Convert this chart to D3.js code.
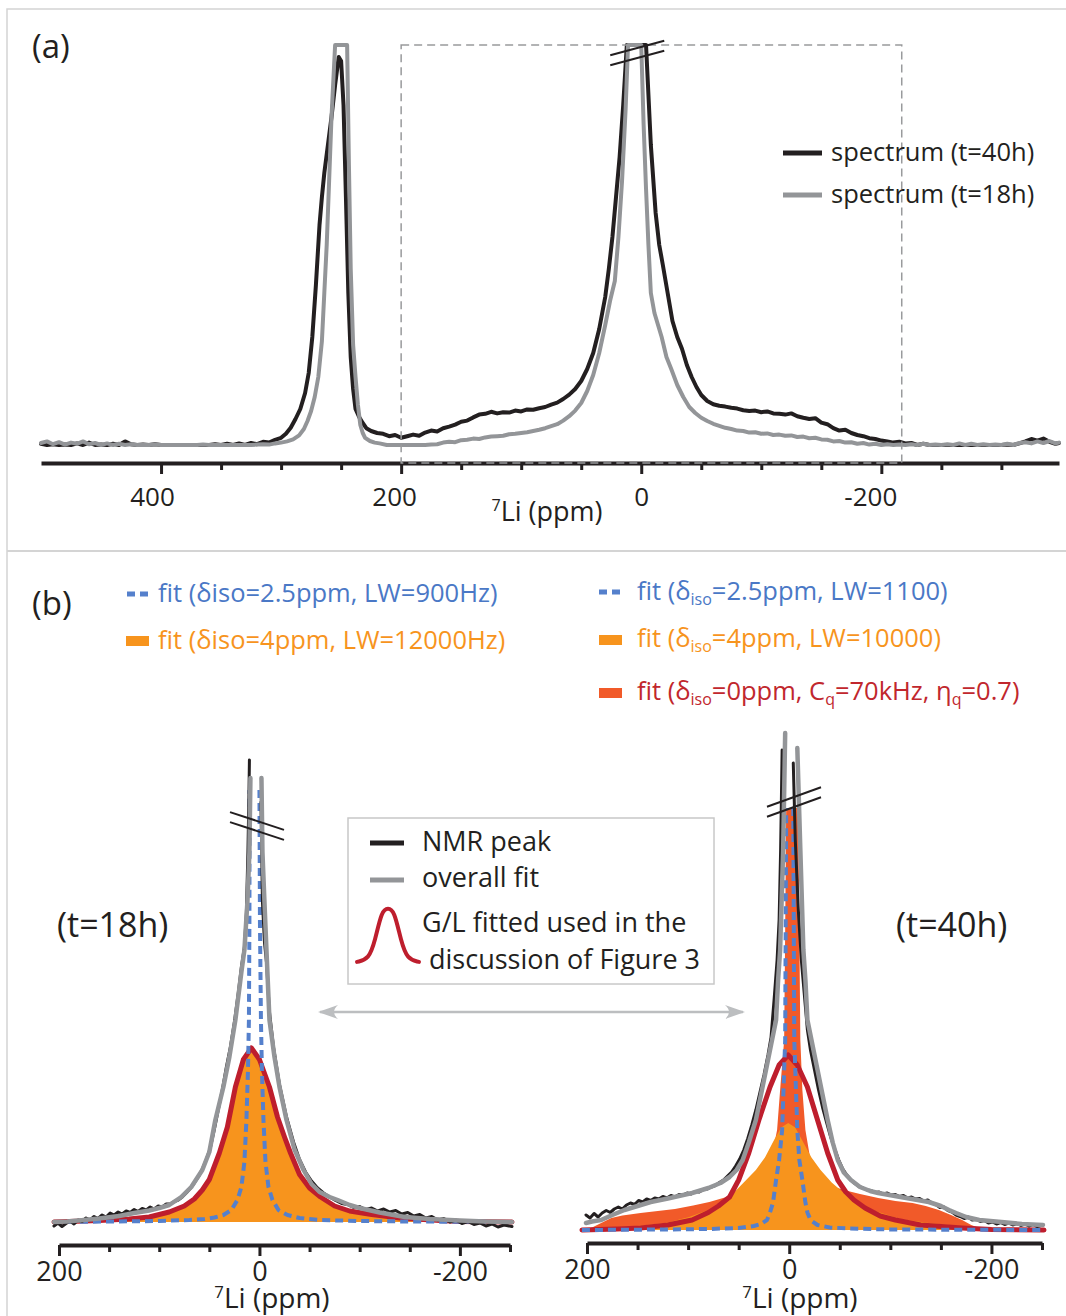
<!DOCTYPE html>
<html lang="en">
<head>
  <meta charset="UTF-8">
  <title>7Li NMR spectra and fits</title>
  <style>
    body { margin: 0; background: #fff; }
    svg { display: block; font-family: "Open Sans", sans-serif; }
  </style>
</head>
<body>
<svg id="chart" width="1066" height="1316"></svg>
<script src="https://cdnjs.cloudflare.com/ajax/libs/d3/7.8.5/d3.min.js"></script>
<script>
  // ---- panel (a): [ppm, intensity] ----
  var specA40 = [[500,0.3],[495,-0.4],[490,0.2],[485,-0.6],[480,0.1],[475,-0.3],[470,0.4],[465,-0.5],[460,0.6],[455,-0.2],[450,0.1],[445,-0.7],[440,0.3],[435,-0.1],[430,0.9],[425,0.2],[420,-0.3],[415,0.1],[410,-0.4],[405,0.2],[400,-0.6],[395,-0.2],[390,-0.9],[385,-0.4],[380,-0.7],[375,-0.2],[370,-0.8],[365,-0.1],[360,-0.5],[355,0.2],[350,-0.4],[345,0.3],[340,-0.2],[335,0.4],[330,-0.1],[325,0.5],[320,0.2],[315,0.8],[310,0.6],[305,1.3],[300,1.8],[296,2.8],[292,4.3],[288,6.5],[284,9],[280,13],[277,18],[274,27],[271,40],[268,55],[266,62],[264,68],[261,75],[258,82],[255,90],[252,97],[250,96],[248,85],[246,62],[244,38],[242,22],[240,14],[238,9],[235,7],[232,5.5],[229,4.2],[225,3.5],[220,3],[215,2.8],[210,2.2],[205,2.5],[200,1.8],[195,2.2],[190,2.6],[185,2.3],[180,3.1],[175,3.6],[170,3.4],[165,4.2],[160,4.6],[155,5.1],[150,5.8],[145,6.1],[140,6.9],[135,7.6],[130,7.8],[125,8.3],[120,7.9],[115,8.2],[110,8.1],[105,8.6],[100,8.4],[95,8.9],[90,8.8],[85,9.2],[80,9.5],[75,10.1],[70,10.6],[65,11.5],[60,12.6],[55,14],[50,16],[45,19],[40,23],[35,29],[30,37],[27,44],[24,52],[21,62],[18,72],[15,85],[12,100],[9,125],[6,150],[3,160],[0,160],[-2,130],[-4,100],[-8,75],[-12,58],[-15,50],[-18,45],[-22,38],[-26,31],[-30,27],[-34,24],[-38,20],[-42,17],[-46,14.5],[-50,12.5],[-55,11],[-60,10.2],[-65,9.8],[-70,9.6],[-75,9.3],[-80,9.1],[-85,8.7],[-90,8.5],[-95,8.6],[-100,8.2],[-105,8.4],[-110,7.9],[-115,7.8],[-120,7.6],[-125,7.9],[-130,7.2],[-135,6.8],[-140,6.5],[-145,6.7],[-150,5.6],[-155,5.2],[-160,4.2],[-165,3.6],[-170,3.8],[-175,3],[-180,2.5],[-185,2.2],[-190,1.7],[-195,1.5],[-200,1.1],[-205,0.9],[-210,0.6],[-215,0.8],[-220,0.4],[-225,0.5],[-230,-0.2],[-235,0.3],[-240,-0.3],[-245,-0.6],[-250,-0.3],[-255,-0.8],[-260,-0.4],[-265,-0.7],[-270,-0.2],[-275,-0.5],[-280,0],[-285,-0.4],[-290,-0.1],[-295,-0.6],[-300,-0.2],[-305,0.1],[-310,-0.3],[-315,0.4],[-320,0.9],[-325,1.5],[-330,1.1],[-335,1.6],[-340,0.8],[-345,0.3],[-348,0.5]];
  var specA18 = [[500,0.5],[495,0.9],[490,0.2],[485,0.7],[480,0.1],[475,0.6],[470,0.3],[465,0.9],[460,0.2],[455,0.5],[450,0],[445,0.4],[440,-0.2],[435,0.3],[430,-0.3],[425,0.2],[420,-0.4],[415,0],[410,-0.3],[405,0.1],[400,-0.5],[395,-0.1],[390,-0.4],[385,0],[380,-0.6],[375,-0.2],[370,-0.5],[365,0.1],[360,-0.3],[355,-0.6],[350,-0.2],[345,-0.5],[340,-0.1],[335,-0.4],[330,0],[325,-0.3],[320,0.1],[315,0.2],[310,0.1],[305,0.4],[300,0.6],[295,0.9],[290,1.4],[285,2.4],[281,4],[278,6],[275,8.5],[272,12],[269,17],[266,26],[264,38],[262,50],[260,66],[258,82],[255,100],[253,125],[251,145],[249,150],[247,140],[245,105],[243.5,70],[242,44],[240,25],[238,17],[236,10],[234,5],[232,3],[230,1.8],[226,1],[222,0.6],[218,0.4],[212,0],[206,-0.4],[200,-0.8],[195,-0.5],[190,-0.7],[185,-0.2],[180,-0.4],[175,0.1],[170,0.2],[165,0.6],[160,0.8],[155,0.7],[150,1.2],[145,1.3],[140,1.6],[135,1.5],[130,1.9],[125,2.1],[120,2.2],[115,2.3],[110,2.7],[105,2.8],[100,3],[95,3.2],[90,3.5],[85,3.8],[80,4.2],[75,4.7],[70,5.2],[65,6.1],[60,7.2],[55,8.6],[50,10.5],[45,13.5],[40,17.5],[35,23],[30,30],[26,36],[22,41],[19,52],[16,66],[13,84],[11,100],[8,130],[5,150],[2,130],[0,100],[-2,80],[-4,64],[-6,50],[-8,38],[-11,33],[-14,30],[-17,27],[-21,22],[-25,19],[-30,15],[-35,12],[-40,9.5],[-45,8],[-50,6.8],[-55,6],[-60,5.3],[-65,4.8],[-70,4.3],[-75,4],[-80,3.6],[-85,3.5],[-90,3.1],[-95,3.2],[-100,2.8],[-105,2.9],[-110,2.5],[-115,2.6],[-120,2.3],[-125,2.4],[-130,2],[-135,2.1],[-140,1.7],[-145,1.8],[-150,1.4],[-155,1.3],[-160,0.9],[-165,1],[-170,0.6],[-175,0.7],[-180,0.3],[-185,0.5],[-190,0.1],[-195,0.3],[-200,-0.1],[-205,0.2],[-210,-0.2],[-215,0.1],[-220,-0.3],[-225,0.2],[-230,-0.1],[-235,0.3],[-240,-0.2],[-245,0.1],[-250,-0.3],[-255,0.2],[-260,0],[-265,0.4],[-270,-0.1],[-275,0.3],[-280,0],[-285,0.2],[-290,-0.2],[-295,0.1],[-300,-0.1],[-305,0.3],[-310,0],[-315,0.5],[-320,0.7],[-325,0.4],[-330,0.9],[-335,0.5],[-340,1],[-345,0.4],[-348,0.6]];
  var ticksA = [400,350,300,250,200,150,100,50,0,-50,-100,-150,-200,-250,-300];
  var majorA = [400,200,0,-200];
  var legendA = ["spectrum (t=40h)", "spectrum (t=18h)"];

  // ---- panel (b), t=18h: [ppm, intensity], null = off scale ----
  var nmr18 = [[205,-0.8],[201,-0.2],[197,-0.9],[193,-0.3],[189,0.2],[185,-0.4],[181,0.4],[177,0.1],[173,0.8],[169,0.4],[165,1.1],[161,0.7],[157,1.4],[153,1],[149,1.8],[145,1.4],[141,2],[137,1.6],[133,2.2],[129,1.9],[125,2.5],[121,2.1],[117,2.7],[113,2.4],[109,3],[105,2.6],[101,3.2],[97,3],[93,3.6],[89,3.6],[85,4.1],[81,4.4],[77,5],[73,5.8],[69,6.7],[65,7.8],[61,9],[57,10.6],[53,12.5],[49,14.8],[45,18.5],[41,22.5],[37,26.5],[33,31],[29,35],[25,40],[21,46],[18,51],[15,55],[13,62],[11.5,74],[10.5,85],[10,92.4],[9,null],[-1.5,84],[-3,64],[-5,56],[-7,52],[-10,42],[-14,35],[-20,27.5],[-27,21],[-34,16],[-40,12.5],[-46,10],[-52,8.2],[-58,6.8],[-64,5.8],[-70,5],[-76,4.3],[-82,3.7],[-88,3.5],[-94,2.9],[-100,3.1],[-106,2.5],[-112,2.8],[-118,2.2],[-124,2.6],[-130,2],[-136,2.3],[-142,1.6],[-148,1.9],[-154,1.2],[-160,1.5],[-166,0.8],[-172,1.1],[-178,0.4],[-184,0.7],[-190,0],[-196,0.4],[-202,-0.3],[-208,0.1],[-214,-0.5],[-220,-0.2],[-226,-0.8],[-232,-0.4],[-238,-1],[-244,-0.6],[-252,-0.9]];
  var fit18 = [[205,0],[192,0.1],[175,0.4],[160,0.7],[140,1.2],[125,1.8],[110,2.3],[100,2.8],[90,3.4],[78,5],[68,7],[57,10.4],[50,14],[44,20.4],[36,27],[30,33],[24,40.4],[18,50],[15,54.4],[12,64],[10,74],[9,88.8],[5,null],[-2,88.8],[-3,74],[-5,64],[-7,54.4],[-10,40.4],[-15,33],[-20,27],[-27,20.4],[-35,14.5],[-44,10.4],[-52,7.6],[-60,6],[-70,5],[-78,4.4],[-90,3.4],[-100,2.8],[-120,1.9],[-145,1],[-170,0.6],[-200,0.3],[-225,0.1],[-252,0]];
  var narrow18 = [[205,0],[150,0.1],[100,0.2],[70,0.4],[55,0.6],[45,0.9],[36,1.4],[28,2.4],[22,4.4],[18,7],[15,12],[13,20.4],[11.5,30],[10.5,40.4],[10,60],[9.8,86.4],[5,null],[0,86.4],[-0.5,60],[-1.5,40.4],[-2.5,30],[-4,20.4],[-6,12],[-9,7],[-13,4.4],[-19,2.4],[-28,1.4],[-40,0.8],[-60,0.4],[-100,0.2],[-150,0.1],[-252,0]];
  var broad18 = [[205,0.2],[160,0.5],[130,0.8],[110,1.2],[90,2.1],[75,3.3],[65,4.7],[57,6.5],[50,8.7],[40,13.9],[32,19],[24,26.8],[16,32],[8,34],[0,32],[-10,26.8],[-18,21],[-25,17],[-31,13.9],[-40,9.6],[-50,7],[-61,5.1],[-75,3.4],[-90,2.3],[-112,1.5],[-140,0.8],[-180,0.3],[-252,0.1]];
  var gl18 = [[205,0],[160,0.3],[130,0.6],[110,1],[90,2],[75,3.2],[65,4.6],[57,6.4],[50,8.5],[40,13.8],[32,19],[24,27],[16,32.5],[8,34.8],[0,32.5],[-10,27],[-18,21],[-25,17],[-31,13.8],[-40,9.5],[-50,6.8],[-61,5],[-75,3.2],[-90,2.2],[-112,1.5],[-140,0.8],[-180,0.3],[-200,0.1],[-252,0]];

  // ---- panel (b), t=40h ----
  var nmr40 = [[201,3],[197,2.4],[193,3.3],[189,2.6],[185,3.4],[181,3.9],[177,3.5],[173,4.2],[169,4.6],[165,4.2],[161,5],[157,5.4],[153,5.1],[149,5.9],[145,5.6],[141,6.2],[137,5.9],[133,6.4],[129,6.2],[125,6.7],[121,6.4],[117,6.9],[113,6.6],[109,7.1],[105,7],[101,7.4],[97,7.2],[93,7.7],[89,7.6],[85,8.1],[81,8.2],[77,8.6],[73,8.9],[69,9.5],[65,10],[61,10.8],[57,11.6],[53,12.8],[49,14.2],[45,16],[41,18.3],[37,21],[33,24],[29,27.5],[25,31],[21,35],[18,38.5],[15,46],[12,54],[10,62],[8.5,76],[7,96],[2,null],[-4,93.4],[-6,78],[-9,64],[-12,54],[-15,47],[-18,40],[-21,36],[-25,32],[-29,28],[-33,24.5],[-37,21.5],[-41,18.6],[-45,16.2],[-49,14],[-53,12.2],[-57,11],[-61,10],[-65,9.3],[-69,8.7],[-73,8.4],[-77,8],[-81,7.9],[-85,7.5],[-89,7.6],[-93,7.2],[-97,7.4],[-101,7],[-105,7.1],[-109,6.7],[-113,6.9],[-117,6.4],[-121,6.6],[-125,6.2],[-129,6.3],[-133,5.8],[-137,6],[-141,5.4],[-145,5.1],[-149,4.5],[-153,4.6],[-157,3.9],[-161,3.6],[-165,3],[-169,2.7],[-173,2.3],[-177,2.6],[-181,2],[-185,2.1],[-189,1.7],[-193,1.9],[-197,1.4],[-201,1.6],[-205,1.2],[-209,1.5],[-213,1.1],[-217,1.4],[-221,1],[-225,1.3],[-229,0.9],[-233,1.2],[-237,0.8],[-241,1.1],[-245,0.7],[-251,1]];
  var fit40 = [[201,1.4],[195,1.7],[186,2],[175,3],[163,4],[150,4.8],[137,5.6],[120,6.3],[96,7.4],[80,8.4],[68,9.4],[59,10.6],[52,12],[46,14],[40,17.5],[33,22],[28,27],[23,32],[18,37],[13,42],[11,50],[9,56],[6,76],[4,99.4],[0,null],[-8,96.4],[-11,76],[-14,56],[-16,50],[-18,42],[-23,37],[-28,32],[-33,27],[-38,22],[-43,17.5],[-48,14],[-54,11.5],[-61,10],[-70,8.6],[-80,7.8],[-88,7.4],[-110,6.6],[-138,5.6],[-150,4.8],[-158,4],[-165,3.4],[-175,2.6],[-188,2],[-210,1.6],[-230,1.2],[-251,1]];
  var narrow40 = [[205,0],[120,0.1],[80,0.2],[50,0.4],[35,0.8],[28,1.2],[22,2],[19,3.5],[16,5.5],[13,10],[10,14],[7,20],[4,38],[3,84.4],[0,null],[-4,84.4],[-5,38],[-8,20],[-10,14],[-13,10],[-16,5.5],[-18,3.5],[-21,2],[-28,1],[-40,0.5],[-60,0.3],[-100,0.1],[-252,0]];
  var broad40 = [[205,0.3],[150,0.8],[120,1.5],[99,2.6],[80,4],[70,5],[59,6.6],[45,9.5],[33,12],[24,14.5],[15,18],[8,20.5],[1,21.4],[-6,20.5],[-14,17.5],[-22,14.5],[-31,12],[-42,9.5],[-54,7.4],[-70,5],[-88,3.6],[-110,2.2],[-138,1.4],[-180,0.6],[-252,0.2]];
  var quad40 = [[205,0],[195,0.5],[185,1.5],[176,2.4],[165,2.9],[147,3.4],[130,3.8],[113,4.2],[95,4.9],[79,5.6],[62,6.6],[46,7.8],[33,9.2],[24,11],[18,14],[12,20],[9,28],[5,38],[4,60],[3,84.4],[-9,84.4],[-10,60],[-11,38],[-13,28],[-16,20],[-21,14],[-26,11.5],[-31,10],[-42,8.8],[-54,8],[-70,7.2],[-88,6.4],[-105,5.8],[-122,5.4],[-135,4.8],[-148,4],[-160,3],[-171,2],[-180,1],[-188,0.4],[-200,0]];
  var gl40 = [[205,0],[170,0.2],[147,0.4],[120,1],[96,2],[80,3.5],[70,4.8],[59,6.6],[50,10],[40,15.4],[30,22],[19,28.6],[10,33],[1,35],[-8,33],[-18,28.6],[-28,22],[-38,15.4],[-48,10],[-56,7.6],[-64,6],[-75,4.4],[-90,2.8],[-105,2],[-130,1],[-171,0.4],[-200,0.1],[-252,0]];

  var ticksB = [200,150,100,50,0,-50,-100,-150,-200,-250];
  var majorB = [200,0,-200];
  var boxLegend = ["NMR peak", "overall fit", "G/L fitted used in the", "discussion of Figure 3"];

  var black = "#231f20", grey = "#939598", blue = "#5580cc", blueText = "#4a78c6",
      orange = "#f7941d", quadCol = "#f15a29", red = "#be1e2d", redText = "#c1272d", frame = "#d4d4d4";

  var svg = d3.select("#chart");

  // frame of the figure
  svg.append("path").attr("d", "M7,1316V9H1066").attr("fill", "none").attr("stroke", frame).attr("stroke-width", 1.5);
  svg.append("line").attr("x1", 7).attr("x2", 1066).attr("y1", 551).attr("y2", 551)
    .attr("stroke", frame).attr("stroke-width", 2);

  function axis(g, x, ticks, major, pad, size, shift) {
    g.call(d3.axisBottom(x).tickValues(ticks).tickSize(7).tickSizeOuter(0).tickPadding(pad)
      .tickFormat(d => major.indexOf(d) >= 0 ? String(d) : ""));
    g.select(".domain").attr("stroke", black).attr("stroke-width", 4);
    g.selectAll(".tick line").attr("stroke", black).attr("stroke-width", 3)
      .attr("y2", d => major.indexOf(d) >= 0 ? 11 : 7);
    g.selectAll(".tick text").attr("fill", black).attr("font-size", size)
      .attr("font-family", "Open Sans, sans-serif")
      .attr("dx", d => shift ? (shift[d] || 0) : 0);
  }

  function axisTitle(x, y, size) {
    var t = svg.append("text").attr("x", x).attr("y", y).attr("text-anchor", "middle")
      .attr("font-size", size).attr("fill", black);
    t.append("tspan").attr("font-size", size * 0.6).attr("dy", -10).text("7");
    t.append("tspan").attr("dy", 10).text("Li (ppm)");
  }

  function plotLine(data, x, y, color, width, dash) {
    var line = d3.line().defined(d => d[1] !== null).x(d => x(d[0])).y(d => y(d[1]));
    svg.append("path").datum(data).attr("d", line)
      .attr("fill", "none").attr("stroke", color).attr("stroke-width", width)
      .attr("stroke-linejoin", "round").attr("stroke-linecap", dash ? "butt" : "round")
      .attr("stroke-dasharray", dash || null);
  }

  function plotArea(data, x, y, color) {
    var area = d3.area().x(d => x(d[0])).y0(y(0)).y1(d => y(d[1]));
    svg.append("path").datum(data).attr("d", area).attr("fill", color);
  }

  function breakMark(cx, cy, slope) {
    [-5, 5].forEach(function (off) {
      svg.append("line")
        .attr("x1", cx - 27).attr("y1", cy + off - 27 * slope)
        .attr("x2", cx + 27).attr("y2", cy + off + 27 * slope)
        .attr("stroke", black).attr("stroke-width", 2);
    });
  }

  // ================= panel (a) =================
  var xA = d3.scaleLinear().domain([500, -348]).range([41, 1059]);
  var yA = d3.scaleLinear().domain([0, 100]).range([445, 45]).clamp(true);

  svg.append("text").attr("x", 32).attr("y", 58).attr("font-size", 33).attr("fill", black).text("(a)");

  axis(svg.append("g").attr("transform", "translate(0,463)"), xA, ticksA, majorA, 18, 26,
    {"400": -9, "200": -7, "-200": -11});
  axisTitle(547, 521, 27);

  plotLine(specA40, xA, yA, black, 4);
  plotLine(specA18, xA, yA, grey, 4);

  // dashed zoom box
  svg.append("rect")
    .attr("x", xA(200)).attr("y", yA(100))
    .attr("width", xA(-217) - xA(200)).attr("height", 463 - yA(100))
    .attr("fill", "none").attr("stroke", "#999a9c").attr("stroke-width", 1.5).attr("stroke-dasharray", "8,5");

  breakMark(xA(0) - 4, yA(98), -0.27);

  var legA = svg.append("g").attr("transform", "translate(783,153)");
  [black, grey].forEach(function (c, i) {
    legA.append("line").attr("x1", 0).attr("x2", 39).attr("y1", i * 42).attr("y2", i * 42)
      .attr("stroke", c).attr("stroke-width", 5);
    legA.append("text").attr("x", 48).attr("y", i * 42 + 8).attr("font-size", 25.5).attr("fill", black).text(legendA[i]);
  });

  // ================= panel (b) =================
  svg.append("text").attr("x", 32).attr("y", 615).attr("font-size", 33).attr("fill", black).text("(b)");

  // legends above the plots
  function dashSwatch(x, y) {
    svg.append("line").attr("x1", x).attr("x2", x + 21).attr("y1", y).attr("y2", y)
      .attr("stroke", blue).attr("stroke-width", 5).attr("stroke-dasharray", "8,5");
  }
  function blockSwatch(x, y, c) {
    svg.append("rect").attr("x", x).attr("y", y - 5).attr("width", 23).attr("height", 10).attr("fill", c);
  }
  function richText(x, y, color, parts) {
    var t = svg.append("text").attr("x", x).attr("y", y).attr("font-size", 25.5).attr("fill", color);
    var down = 0;
    parts.forEach(function (p) {
      if (typeof p === "string") {
        t.append("tspan").attr("dy", -down).text(p);
        down = 0;
      } else {
        t.append("tspan").attr("font-size", 16).attr("dy", 5).text(p.sub);
        down = 5;
      }
    });
  }

  dashSwatch(127, 594);
  richText(158, 602, blueText, ["fit (\u03b4iso=2.5ppm, LW=900Hz)"]);
  blockSwatch(126, 641, orange);
  richText(158, 649, orange, ["fit (\u03b4iso=4ppm, LW=12000Hz)"]);

  dashSwatch(599, 592);
  richText(637, 600, blueText, ["fit (\u03b4", {sub: "iso"}, "=2.5ppm, LW=1100)"]);
  blockSwatch(599, 640, orange);
  richText(637, 647, orange, ["fit (\u03b4", {sub: "iso"}, "=4ppm, LW=10000)"]);
  blockSwatch(599, 693, quadCol);
  richText(637, 700, redText, ["fit (\u03b4", {sub: "iso"}, "=0ppm, C", {sub: "q"}, "=70kHz, \u03b7", {sub: "q"}, "=0.7)"]);

  // --- left plot, t=18h ---
  var xL = d3.scaleLinear().domain([200, -250]).range([59, 510]);
  var yL = d3.scaleLinear().domain([0, 100]).range([1222, 722]);

  plotArea(broad18, xL, yL, orange);
  plotLine(gl18, xL, yL, red, 5);
  plotLine(narrow18, xL, yL, blue, 4, "8,5");
  plotLine(nmr18, xL, yL, black, 3);
  plotLine(fit18, xL, yL, grey, 4.5);
  breakMark(257, 826, 0.33);

  axis(svg.append("g").attr("transform", "translate(0,1245)"), xL, ticksB, majorB, 10, 27);
  axisTitle(272, 1308, 28);

  // --- right plot, t=40h ---
  var xR = d3.scaleLinear().domain([200, -250]).range([587, 1042]);
  var yR = d3.scaleLinear().domain([0, 100]).range([1230, 730]);

  plotArea(quad40, xR, yR, quadCol);
  plotArea(broad40, xR, yR, orange);
  plotLine(gl40, xR, yR, red, 5);
  plotLine(narrow40, xR, yR, blue, 4, "8,5");
  plotLine(nmr40, xR, yR, black, 3);
  plotLine(fit40, xR, yR, grey, 4.5);
  breakMark(794, 802, -0.36);

  axis(svg.append("g").attr("transform", "translate(0,1243)"), xR, ticksB, majorB, 10, 27);
  axisTitle(800, 1308, 28);

  svg.append("text").attr("x", 57).attr("y", 937).attr("font-size", 34).attr("fill", black).text("(t=18h)");
  svg.append("text").attr("x", 896).attr("y", 937).attr("font-size", 34).attr("fill", black).text("(t=40h)");

  // double arrow between the two plots
  var defs = svg.append("defs");
  defs.append("marker").attr("id", "tip").attr("viewBox", "0 0 20 14").attr("refX", 18).attr("refY", 7)
    .attr("markerWidth", 20).attr("markerHeight", 14).attr("markerUnits", "userSpaceOnUse")
    .attr("orient", "auto-start-reverse")
    .append("path").attr("d", "M0,0 Q8,7 0,14 L20,7 Z").attr("fill", "#bcbec0");
  svg.append("line").attr("x1", 320).attr("x2", 743).attr("y1", 1012).attr("y2", 1012)
    .attr("stroke", "#bcbec0").attr("stroke-width", 2.5)
    .attr("marker-start", "url(#tip)").attr("marker-end", "url(#tip)");

  // boxed legend
  var box = svg.append("g").attr("transform", "translate(348,818)");
  box.append("rect").attr("width", 366).attr("height", 166).attr("fill", "#fff")
    .attr("stroke", "#c8c8c8").attr("stroke-width", 1.5);
  box.append("line").attr("x1", 22).attr("x2", 56).attr("y1", 25).attr("y2", 25).attr("stroke", black).attr("stroke-width", 5);
  box.append("line").attr("x1", 22).attr("x2", 56).attr("y1", 62).attr("y2", 62).attr("stroke", grey).attr("stroke-width", 5);
  var bell = [[-1, 0.02], [-0.62, 0.07], [-0.42, 0.4], [-0.2, 0.96], [0, 1], [0.2, 0.96], [0.42, 0.4], [0.62, 0.07], [1, 0.02]];
  box.append("path").datum(bell)
    .attr("d", d3.line().curve(d3.curveBasis).x(d => 40 + d[0] * 31).y(d => 145 - d[1] * 55))
    .attr("fill", "none").attr("stroke", red).attr("stroke-width", 4).attr("stroke-linecap", "round");
  [[74, 33], [74, 69], [74, 114], [81, 151]].forEach(function (p, i) {
    box.append("text").attr("x", p[0]).attr("y", p[1]).attr("font-size", 27).attr("fill", black).text(boxLegend[i]);
  });
</script>
</body>
</html>
